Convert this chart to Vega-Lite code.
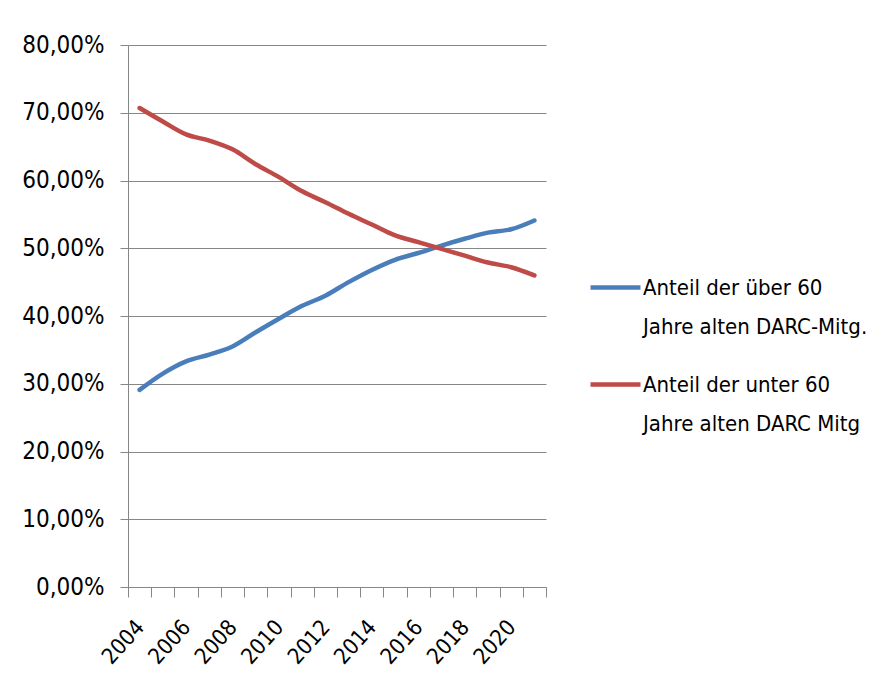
{
  "$schema": "https://vega.github.io/schema/vega-lite/v6.json",
  "autosize": "none",
  "width": 418,
  "height": 542,
  "padding": {"left": 128, "top": 45, "right": 349, "bottom": 111},
  "background": "white",
  "data": {
    "values": [
      {"year": "2004", "series": "Anteil der über 60 Jahre alten DARC-Mitg.", "value": 0.291},
      {"year": "2005", "series": "Anteil der über 60 Jahre alten DARC-Mitg.", "value": 0.315},
      {"year": "2006", "series": "Anteil der über 60 Jahre alten DARC-Mitg.", "value": 0.333},
      {"year": "2007", "series": "Anteil der über 60 Jahre alten DARC-Mitg.", "value": 0.343},
      {"year": "2008", "series": "Anteil der über 60 Jahre alten DARC-Mitg.", "value": 0.355},
      {"year": "2009", "series": "Anteil der über 60 Jahre alten DARC-Mitg.", "value": 0.376},
      {"year": "2010", "series": "Anteil der über 60 Jahre alten DARC-Mitg.", "value": 0.396},
      {"year": "2011", "series": "Anteil der über 60 Jahre alten DARC-Mitg.", "value": 0.415},
      {"year": "2012", "series": "Anteil der über 60 Jahre alten DARC-Mitg.", "value": 0.430},
      {"year": "2013", "series": "Anteil der über 60 Jahre alten DARC-Mitg.", "value": 0.450},
      {"year": "2014", "series": "Anteil der über 60 Jahre alten DARC-Mitg.", "value": 0.468},
      {"year": "2015", "series": "Anteil der über 60 Jahre alten DARC-Mitg.", "value": 0.483},
      {"year": "2016", "series": "Anteil der über 60 Jahre alten DARC-Mitg.", "value": 0.493},
      {"year": "2017", "series": "Anteil der über 60 Jahre alten DARC-Mitg.", "value": 0.504},
      {"year": "2018", "series": "Anteil der über 60 Jahre alten DARC-Mitg.", "value": 0.514},
      {"year": "2019", "series": "Anteil der über 60 Jahre alten DARC-Mitg.", "value": 0.523},
      {"year": "2020", "series": "Anteil der über 60 Jahre alten DARC-Mitg.", "value": 0.528},
      {"year": "2021", "series": "Anteil der über 60 Jahre alten DARC-Mitg.", "value": 0.541},
      {"year": "2004", "series": "Anteil der unter 60 Jahre alten DARC Mitg", "value": 0.707},
      {"year": "2005", "series": "Anteil der unter 60 Jahre alten DARC Mitg", "value": 0.687},
      {"year": "2006", "series": "Anteil der unter 60 Jahre alten DARC Mitg", "value": 0.668},
      {"year": "2007", "series": "Anteil der unter 60 Jahre alten DARC Mitg", "value": 0.659},
      {"year": "2008", "series": "Anteil der unter 60 Jahre alten DARC Mitg", "value": 0.646},
      {"year": "2009", "series": "Anteil der unter 60 Jahre alten DARC Mitg", "value": 0.624},
      {"year": "2010", "series": "Anteil der unter 60 Jahre alten DARC Mitg", "value": 0.605},
      {"year": "2011", "series": "Anteil der unter 60 Jahre alten DARC Mitg", "value": 0.584},
      {"year": "2012", "series": "Anteil der unter 60 Jahre alten DARC Mitg", "value": 0.568},
      {"year": "2013", "series": "Anteil der unter 60 Jahre alten DARC Mitg", "value": 0.551},
      {"year": "2014", "series": "Anteil der unter 60 Jahre alten DARC Mitg", "value": 0.535},
      {"year": "2015", "series": "Anteil der unter 60 Jahre alten DARC Mitg", "value": 0.519},
      {"year": "2016", "series": "Anteil der unter 60 Jahre alten DARC Mitg", "value": 0.509},
      {"year": "2017", "series": "Anteil der unter 60 Jahre alten DARC Mitg", "value": 0.499},
      {"year": "2018", "series": "Anteil der unter 60 Jahre alten DARC Mitg", "value": 0.489},
      {"year": "2019", "series": "Anteil der unter 60 Jahre alten DARC Mitg", "value": 0.479},
      {"year": "2020", "series": "Anteil der unter 60 Jahre alten DARC Mitg", "value": 0.472},
      {"year": "2021", "series": "Anteil der unter 60 Jahre alten DARC Mitg", "value": 0.460}
    ]
  },
  "mark": {"type": "line", "strokeWidth": 4.5, "strokeCap": "round", "strokeJoin": "round", "interpolate": "monotone"},
  "encoding": {
    "x": {
      "field": "year",
      "type": "ordinal",
      "bandPosition": 0.5,
      "scale": {"type": "band", "paddingInner": 0, "paddingOuter": 0},
      "axis": {
        "title": null,
        "labelExpr": "toNumber(datum.value) % 2 == 0 ? datum.value : ''",
        "labelAngle": -48,
        "labelAlign": "right",
        "labelBaseline": "middle",
        "labelPadding": 26,
        "labelOverlap": false,
        "tickBand": "extent",
        "tickSize": 10,
        "tickColor": "#868686",
        "domainColor": "#868686",
        "labelFontSize": 22,
        "grid": false
      }
    },
    "y": {
      "field": "value",
      "type": "quantitative",
      "scale": {"domain": [0, 0.8], "nice": false},
      "axis": {
        "title": null,
        "values": [0, 0.1, 0.2, 0.3, 0.4, 0.5, 0.6, 0.7, 0.8],
        "labelExpr": "replace(format(datum.value, '.2%'), '.', ',')",
        "grid": true,
        "gridColor": "#868686",
        "tickColor": "#868686",
        "domainColor": "#868686",
        "tickSize": 8,
        "labelPadding": 16,
        "labelFontSize": 24
      }
    },
    "color": {
      "field": "series",
      "type": "nominal",
      "scale": {
        "domain": ["Anteil der über 60 Jahre alten DARC-Mitg.", "Anteil der unter 60 Jahre alten DARC Mitg"],
        "range": ["#4A7EBB", "#BE4B48"]
      },
      "legend": {
        "title": null,
        "orient": "none",
        "legendX": 460,
        "legendY": 215,
        "padding": 0,
        "symbolType": "stroke",
        "symbolStrokeWidth": 4.5,
        "symbolSize": 2500,
        "labelOffset": 0,
        "labelFontSize": 22,
        "labelLimit": 400,
        "rowPadding": 19,
        "labelExpr": "datum.label == 'Anteil der über 60 Jahre alten DARC-Mitg.' ? ['Anteil der über 60', 'Jahre alten DARC-Mitg.'] : ['Anteil der unter 60', 'Jahre alten DARC Mitg']"
      }
    }
  },
  "config": {
    "font": "DejaVu Sans Condensed, sans-serif",
    "view": {"stroke": null},
    "axis": {"labelColor": "#000000", "domainWidth": 1, "gridWidth": 1, "tickWidth": 1},
    "legend": {"labelColor": "#000000"},
    "style": {"guide-label": {"lineHeight": 39}}
  }
}
